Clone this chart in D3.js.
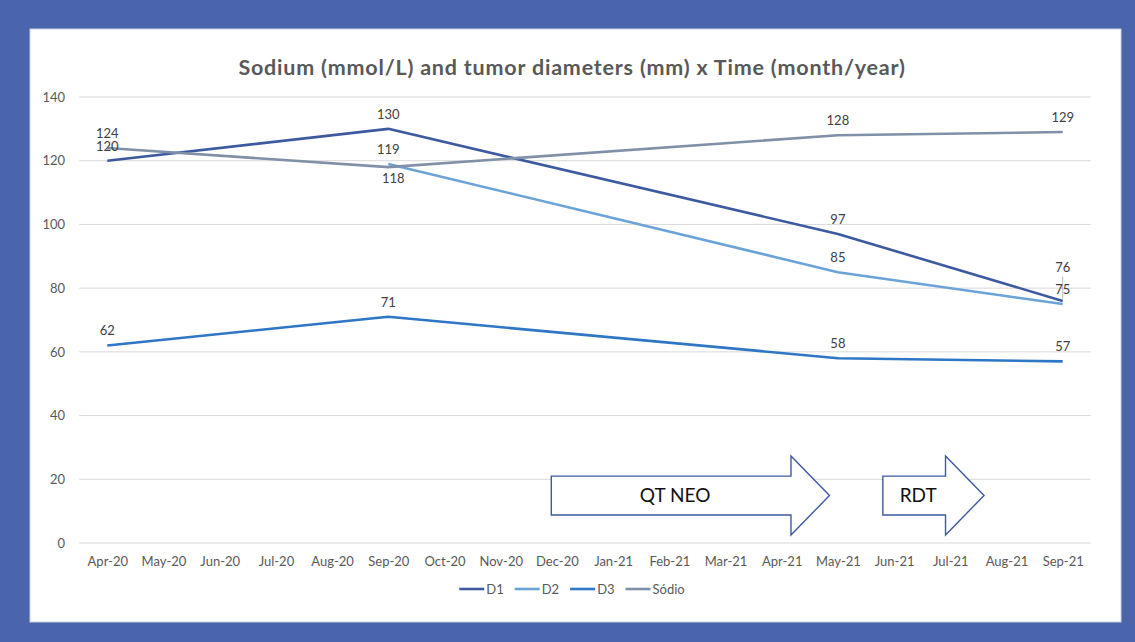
<!DOCTYPE html>
<html>
<head>
<meta charset="utf-8">
<script src="https://d3js.org/d3.v7.min.js"></script>
<style>
  html, body { margin: 0; padding: 0; background: #4a65ab; }
  svg { display: block; }
  text { font-family: Lato, "Open Sans", sans-serif; }
</style>
</head>
<body>
<div id="chart"></div>
<script>
// 1. Data
const months = ["Apr-20", "May-20", "Jun-20", "Jul-20", "Aug-20", "Sep-20", "Oct-20", "Nov-20", "Dec-20",
	"Jan-21", "Feb-21", "Mar-21", "Apr-21", "May-21", "Jun-21", "Jul-21", "Aug-21", "Sep-21"]
const seriesNames = ["D1", "D2", "D3", "Sódio"]
const d1 = [120, null, null, null, null, 130, null, null, null, null, null, null, null, 97, null, null, null, 76]
const d2 = [null, null, null, null, null, 119, null, null, null, null, null, null, null, 85, null, null, null, 75]
const d3v = [62, null, null, null, null, 71, null, null, null, null, null, null, null, 58, null, null, null, 57]
const sodio = [124, null, null, null, null, 118, null, null, null, null, null, null, null, 128, null, null, null, 129]
const yTicks = [0, 20, 40, 60, 80, 100, 120, 140]
const title = "Sodium (mmol/L) and tumor diameters (mm) x Time (month/year)"
// treatment arrows, in fractional month positions
const arrows = [
	{ label: "QT NEO", from: 7.9, to: 12.85 },
	{ label: "RDT", from: 13.8, to: 15.6 },
]

const colors = { "D1": "#3d5aa0", "D2": "#6aa3d8", "D3": "#2e76c6", "Sódio": "#7f90a8" }
const seriesValues = { "D1": d1, "D2": d2, "D3": d3v, "Sódio": sodio }
// label placement tweaks (default: above the point)
const labelDy = { "Sódio|Sep-20": 16, "D1|Sep-21": -29 }
const labelDx = { "Sódio|Sep-20": 5 }

// 2. Dimensions
const width = 1135
const height = 642
const plot = { left: 79.2, right: 1090.8, top: 97, bottom: 543 }

// 3. Canvas
const svg = d3.select("#chart")
	.append("svg")
	.attr("width", width)
	.attr("height", height)

svg.append("rect")
	.attr("x", 30).attr("y", 29)
	.attr("width", 1091).attr("height", 593)
	.attr("fill", "#fff")
	.attr("stroke", "#c9d0e0")
	.attr("stroke-width", 1)

// 4. Scales
const x = d3.scalePoint()
	.domain(months)
	.range([plot.left, plot.right])
	.padding(0.5)

const xPos = i => x(months[0]) + i * x.step()

const y = d3.scaleLinear()
	.domain([0, 140])
	.range([plot.bottom, plot.top])

// 5. Gridlines and axes
svg.append("g")
	.selectAll("line")
	.data(yTicks)
	.join("line")
	.attr("x1", plot.left)
	.attr("x2", plot.right)
	.attr("y1", d => y(d))
	.attr("y2", d => y(d))
	.attr("stroke", "#d9d9d9")
	.attr("stroke-width", 1)

const yAxis = svg.append("g")
	.attr("transform", `translate(65,0)`)
	.call(d3.axisLeft(y).tickValues(yTicks).tickSize(0).tickPadding(0))
yAxis.select(".domain").remove()
yAxis.selectAll("text")
	.attr("font-family", "Lato, sans-serif")
	.attr("font-size", 13)
	.attr("fill", "#595959")

const xAxis = svg.append("g")
	.attr("transform", `translate(0,${plot.bottom})`)
	.call(d3.axisBottom(x).tickSize(0).tickPadding(14))
xAxis.select(".domain").remove()
xAxis.selectAll("text")
	.attr("font-family", "Lato, sans-serif")
	.attr("font-size", 13)
	.attr("fill", "#595959")

// 6. Lines
const line = d3.line()
	.x(d => x(d.month))
	.y(d => y(d.value))

const series = seriesNames.map(name => ({
	name,
	points: months
		.map((month, i) => ({ month, value: seriesValues[name][i] }))
		.filter(d => d.value != null),
}))

svg.append("g")
	.selectAll("path")
	.data(series)
	.join("path")
	.attr("d", d => line(d.points))
	.attr("fill", "none")
	.attr("stroke", d => colors[d.name])
	.attr("stroke-width", 2.6)
	.attr("stroke-linejoin", "round")

// leader line for the crowded 76 label
svg.append("line")
	.attr("x1", x("Sep-21")).attr("x2", x("Sep-21"))
	.attr("y1", y(76) - 24).attr("y2", y(76) - 2)
	.attr("stroke", "#a6a6a6")
	.attr("stroke-width", 0.8)

// data labels
const labels = series.flatMap(s => s.points.map(p => ({ ...p, name: s.name })))
svg.append("g")
	.selectAll("text")
	.data(labels)
	.join("text")
	.attr("x", d => x(d.month) + (labelDx[d.name + "|" + d.month] || 0))
	.attr("y", d => y(d.value) + (labelDy[d.name + "|" + d.month] || -10))
	.attr("text-anchor", "middle")
	.attr("font-size", 13)
	.attr("fill", "#404040")
	.text(d => d.value)

// 7. Treatment arrows
const arrowG = svg.append("g")
	.selectAll("g")
	.data(arrows)
	.join("g")

arrowG.append("path")
	.attr("d", d => {
		const x0 = xPos(d.from)
		const x2 = xPos(d.to)
		const x1 = x2 - 38.5
		return `M${x0},${y(21)} L${x1},${y(21)} L${x1},${y(27.3)} L${x2},${y(14.9)}
			L${x1},${y(2.5)} L${x1},${y(8.8)} L${x0},${y(8.8)} Z`
	})
	.attr("fill", "#fff")
	.attr("stroke", "#3d5aa0")
	.attr("stroke-width", 1.4)

arrowG.append("text")
	.attr("x", d => (xPos(d.from) + xPos(d.to) - 38.5) / 2 + 4)
	.attr("y", y(14.9))
	.attr("dy", "0.35em")
	.attr("text-anchor", "middle")
	.attr("font-size", 19)
	.attr("fill", "#111")
	.text(d => d.label)

// 8. Title and legend
svg.append("text")
	.attr("x", 572)
	.attr("y", 75)
	.attr("text-anchor", "middle")
	.attr("font-size", 21.5)
	.attr("letter-spacing", 0.8)
	.attr("font-weight", "bold")
	.attr("fill", "#595959")
	.text(title)

const legend = svg.append("g")
let lx = 0
seriesNames.forEach(name => {
	const g = legend.append("g")
	g.append("line")
		.attr("x1", 0).attr("x2", 25)
		.attr("y1", 0).attr("y2", 0)
		.attr("stroke", colors[name])
		.attr("stroke-width", 2.6)
	const t = g.append("text")
		.attr("x", 27)
		.attr("dy", "0.35em")
		.attr("font-size", 13)
		.attr("fill", "#595959")
		.text(name)
	const w = 27 + t.node().getComputedTextLength()
	g.attr("transform", `translate(${lx},0)`)
	lx += w + 11
})
const legendWidth = lx - 11
legend.attr("transform", `translate(${572 - legendWidth / 2},589)`)
</script>
</body>
</html>
